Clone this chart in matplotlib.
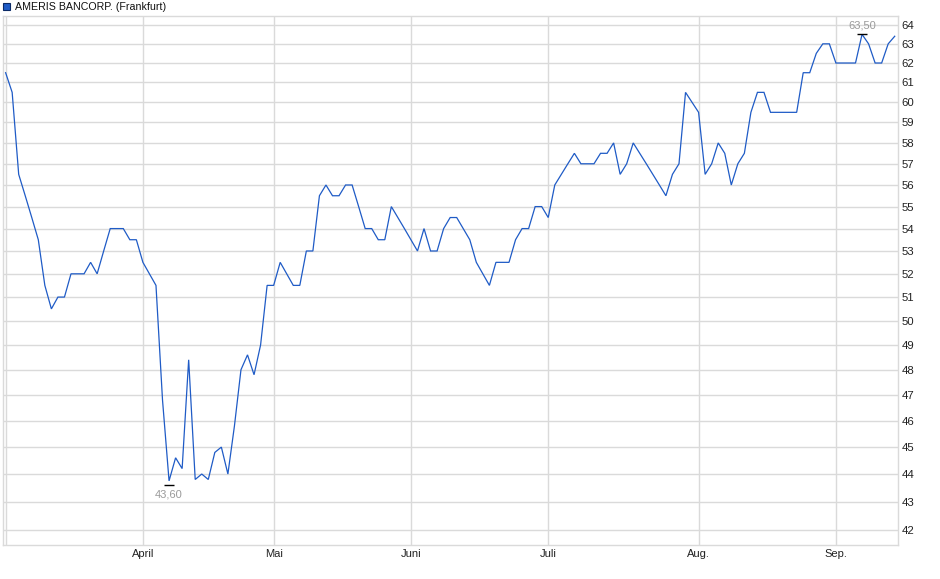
import matplotlib
matplotlib.use("Agg")
import matplotlib.pyplot as plt
from matplotlib.patches import Rectangle
from matplotlib.ticker import FixedLocator, NullFormatter, NullLocator
import numpy as np

plt.rcParams['font.family'] = ['Liberation Sans', 'DejaVu Sans']

title = "AMERIS BANCORP. (Frankfurt)"

# closing prices, one per trading day (early March .. mid September)
prices = [
    61.5, 60.5, 56.5, 55.5, 54.5, 53.5, 51.5, 50.5, 51.0, 51.0,
    52.0, 52.0, 52.0, 52.5, 52.0, 53.0, 54.0, 54.0, 54.0, 53.5,
    53.5, 52.5, 52.0, 51.5, 46.8, 43.75, 44.6, 44.2, 48.4, 43.8,
    44.0, 43.8, 44.8, 45.0, 44.0, 45.8, 48.0, 48.6, 47.8, 49.0,
    51.5, 51.5, 52.5, 52.0, 51.5, 51.5, 53.0, 53.0, 55.5, 56.0,
    55.5, 55.5, 56.0, 56.0, 55.0, 54.0, 54.0, 53.5, 53.5, 55.0,
    54.5, 54.0, 53.5, 53.0, 54.0, 53.0, 53.0, 54.0, 54.5, 54.5,
    54.0, 53.5, 52.5, 52.0, 51.5, 52.5, 52.5, 52.5, 53.5, 54.0,
    54.0, 55.0, 55.0, 54.5, 56.0, 56.5, 57.0, 57.5, 57.0, 57.0,
    57.0, 57.5, 57.5, 58.0, 56.5, 57.0, 58.0, 57.5, 57.0, 56.5,
    56.0, 55.5, 56.5, 57.0, 60.5, 60.0, 59.5, 56.5, 57.0, 58.0,
    57.5, 56.0, 57.0, 57.5, 59.5, 60.5, 60.5, 59.5, 59.5, 59.5,
    59.5, 59.5, 61.5, 61.5, 62.5, 63.0, 63.0, 62.0, 62.0, 62.0,
    62.0, 63.5, 63.0, 62.0, 62.0, 63.0, 63.4,
]

# period low / high shown as markers
period_low = 43.60
period_high = 63.50

# month gridlines (trading-day index of first trading day of month)
month_pos = [0, 21, 41, 62, 83, 106, 127]
month_labels = ['', 'April', 'Mai', 'Juni', 'Juli', 'Aug.', 'Sep.']

y_ticks = list(range(42, 65))

W, H = 940, 579
fig = plt.figure(figsize=(W / 100, H / 100), dpi=100)
ax = fig.add_axes([3 / W, 1 - 545 / H, (898 - 3) / W, (545 - 16) / H])

line_color = '#1f5bc6'
grid_color = '#dadada'
x = np.arange(len(prices))
ax.plot(x, prices, color=line_color, lw=0.9, solid_joinstyle='miter', zorder=3)

ax.set_yscale('log')
ax.set_ylim(41.47, 64.48)
ax.set_xlim(-0.4, 136.5)

ax.yaxis.set_major_locator(FixedLocator(y_ticks))
ax.yaxis.set_minor_locator(NullLocator())
ax.yaxis.set_minor_formatter(NullFormatter())
ax.set_yticklabels([str(v) for v in y_ticks])
ax.yaxis.tick_right()

ax.set_xticks(month_pos)
ax.set_xticklabels(month_labels)

ax.grid(True, color=grid_color, lw=1.0, zorder=0)
for s in ax.spines.values():
    s.set_color(grid_color)
    s.set_linewidth(1.0)

ax.tick_params(axis='y', which='both', length=0, labelsize=8.2,
               labelcolor='#222222', pad=2.6)
ax.tick_params(axis='x', which='both', length=0, labelsize=8,
               labelcolor='#222222', pad=3)

# min / max annotations
imin = int(np.argmin(prices))
imax = int(np.argmax(prices))
ann_color = '#9a9a9a'
ax.plot([imin], [period_low], marker='_', ms=6.5, mew=1.0, color='black', zorder=4)
ax.annotate(f"{period_low:.2f}".replace('.', ','), (imin, period_low),
            xytext=(0, -3.5), textcoords='offset points', ha='center', va='top',
            fontsize=8, color=ann_color)
ax.plot([imax], [period_high], marker='_', ms=6.5, mew=1.0, color='black', zorder=4)
ax.annotate(f"{period_high:.2f}".replace('.', ','), (imax, period_high),
            xytext=(0, 2.5), textcoords='offset points', ha='center', va='bottom',
            fontsize=8, color=ann_color)

# legend-like title
fig.add_artist(Rectangle((3 / W, 1 - 10 / H), 7 / W, 7 / H, transform=fig.transFigure,
                         facecolor=line_color, edgecolor='#0b2a66', lw=0.8))
fig.text(15 / W, 1 - 6.5 / H, title, fontsize=7.7, color='#111111', va='center', ha='left')

fig.savefig('out.png', dpi=100)
